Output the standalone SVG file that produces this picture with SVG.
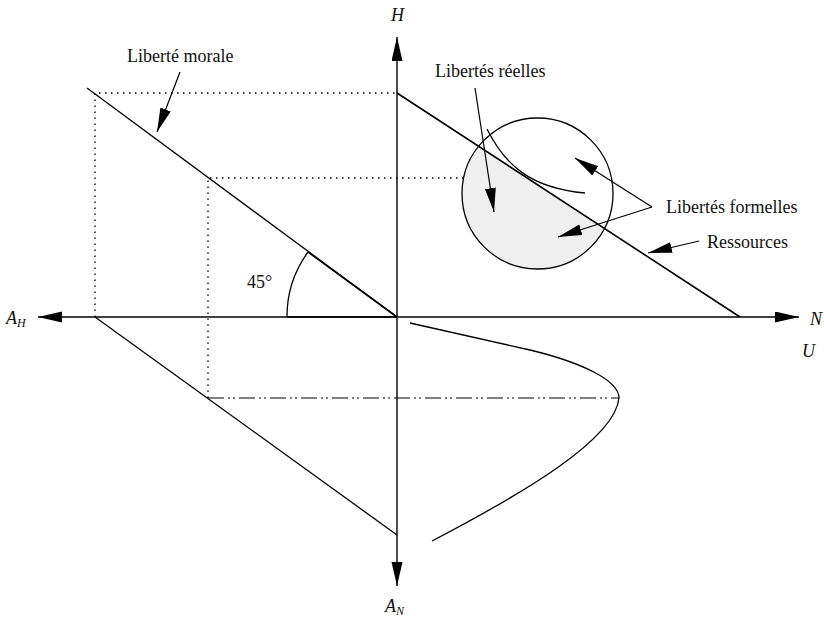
<svg xmlns="http://www.w3.org/2000/svg" width="824" height="619" viewBox="0 0 824 619">
<style>
.ln{fill:none;stroke:#000;stroke-width:1.3}
.th{fill:none;stroke:#000;stroke-width:1.6}
.dot{fill:none;stroke:#000;stroke-width:1.3;stroke-dasharray:1.5 4.5}
.dd{fill:none;stroke:#000;stroke-width:1.2;stroke-dasharray:16 4 2 3 2 4}
.ar{fill:none;stroke:#000;stroke-width:1.2;marker-end:url(#ah)}
.ax{fill:none;stroke:#000;stroke-width:1.4}
text{font-family:"Liberation Serif","Times New Roman",serif;font-size:18px;fill:#111}
.it{font-style:italic;font-size:18px}
.sub{font-size:12px;font-style:italic}
</style>
<defs>
<marker id="ah" markerUnits="userSpaceOnUse" markerWidth="26" markerHeight="12" refX="24" refY="5.5" orient="auto">
<path d="M0,0 L24,5.5 L0,11 z" fill="#000"/>
</marker>
<clipPath id="below"><polygon points="400,94.96 700,290.9 700,420 400,420"/></clipPath>
</defs>
<g id="guides">
<polyline class="dot" points="95,317 95,93 397,93"/>
<polyline class="dot" points="208,398 208,178 522,178"/>
<line class="dd" x1="208" y1="398" x2="619" y2="398"/>
</g>
<g id="circle">
<circle cx="537.5" cy="193.5" r="75.5" fill="#efefef" clip-path="url(#below)"/>
<circle cx="537.5" cy="193.5" r="75.5" class="ln" stroke-width="1.2"/>
<path class="ln" stroke-width="1.2" d="M487,129 C505,165 530,188 585,193"/>
</g>
<g id="lines">
<line class="ln" x1="87" y1="88" x2="397" y2="317"/>
<line class="ln" x1="95" y1="317" x2="397" y2="535"/>
<line class="th" x1="397" y1="93" x2="740" y2="317"/>
<line class="th" x1="308" y1="252" x2="397" y2="317"/>
<line class="th" x1="287" y1="317" x2="397" y2="317"/>
<path class="ln" d="M287,317 A110,110 0 0 1 308,252"/>
<path class="ln" stroke-width="1.2" d="M410,323 L530,350 C580,362 619,380 619,398 C615,440 520,495 432,541"/>
</g>
<g id="axes">
<line class="ax" x1="397" y1="317" x2="397" y2="37" style="marker-end:url(#ah)"/>
<line class="ax" x1="397" y1="317" x2="397" y2="586" style="marker-end:url(#ah)"/>
<line class="ax" x1="397" y1="317" x2="38" y2="317" style="marker-end:url(#ah)"/>
<line class="ax" x1="397" y1="317" x2="799" y2="317" style="marker-end:url(#ah)"/>
</g>
<g id="connectors">
<line class="ar" x1="180" y1="72" x2="157" y2="132"/>
<line class="ar" x1="475" y1="88" x2="494" y2="212"/>
<line class="ar" x1="652" y1="207" x2="575" y2="158"/>
<line class="ar" x1="652" y1="207" x2="558" y2="237"/>
<line class="ar" x1="699" y1="241" x2="648" y2="253"/>
</g>
<g id="labels">
<text x="127" y="62">Liberté morale</text>
<text x="435" y="77">Libertés réelles</text>
<text x="666" y="213">Libertés formelles</text>
<text x="707" y="248">Ressources</text>
<text x="247" y="288">45°</text>
<text class="it" x="391" y="21">H</text>
<text class="it" x="6" y="324">A<tspan class="sub" dy="3">H</tspan></text>
<text class="it" x="810" y="325">N</text>
<text class="it" x="802" y="357">U</text>
<text class="it" x="385" y="612">A<tspan class="sub" dy="3">N</tspan></text>
</g>
</svg>
